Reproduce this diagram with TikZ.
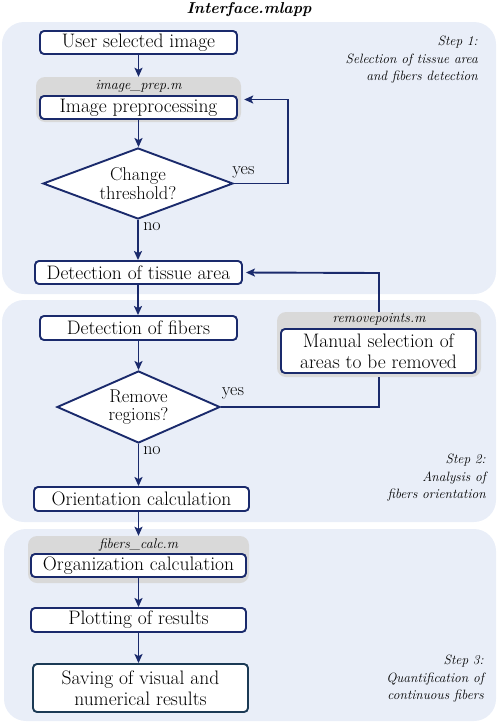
\documentclass[tikz,border=0pt]{standalone}
\usetikzlibrary{shapes.geometric,arrows.meta}
\definecolor{panelbg}{RGB}{233,238,248}
\definecolor{navy}{RGB}{26,42,108}
\definecolor{darkteal}{RGB}{27,58,85}
\definecolor{graybg}{RGB}{217,217,217}
\tikzset{
  panel/.style={fill=panelbg, draw=none, rounded corners=22pt},
  box/.style={draw=navy, line width=1.9pt, fill=white, rounded corners=4pt, inner sep=0pt, align=center, font=\fontsize{19.5}{20.5}\selectfont},
  graybox/.style={fill=graybg, draw=none, rounded corners=9pt, inner sep=0pt},
  dia/.style={draw=navy, line width=1.9pt, fill=white, diamond, inner sep=0pt, align=center, font=\fontsize{18.5}{18.5}\selectfont},
  arr/.style={draw=navy, line width=1.9pt, -{Stealth[length=9pt,width=8pt,inset=2pt]}},
  conn/.style={draw=navy, line width=1.9pt},
  fname/.style={font=\fontsize{14}{15}\selectfont\itshape, inner sep=0pt},
  yn/.style={font=\fontsize{18}{19}\selectfont, inner sep=0pt},
  stepnote/.style={font=\fontsize{13.5}{17.5}\selectfont\itshape, align=right, inner sep=0pt}
}
\begin{document}
\begin{tikzpicture}[x=1pt,y=-1pt]
\useasboundingbox (0,0) rectangle (498,723);
% panels
\fill[panel] (2,22) rectangle (496,294);
\fill[panel] (2,300) rectangle (496,522);
\fill[panel] (4,529) rectangle (496,721);
% title
\node[font=\fontsize{15.8}{17}\selectfont\bfseries\itshape, inner sep=0pt] (title) at (249,10) {Interface.mlapp};
% step notes
\node[stepnote, anchor=east] (s1) at (478,60) {Step 1:\\Selection of tissue area\\and fibers detection};
\node[stepnote, anchor=east] (s2) at (486,478) {Step 2:\\Analysis of\\fibers orientation};
\node[stepnote, anchor=east] (s3) at (484,679) {Step 3:\\Quantification of\\continuous fibers};
% step 1
\node[box, minimum width=197pt, minimum height=23pt] (user) at (138.5,42.5) {User selected image};
\node[graybox, minimum width=205pt, minimum height=45pt] (gprep) at (138.5,99.5) {};
\node[fname] (lprep) at (138.5,86) {image\_prep.m};
\node[box, minimum width=197pt, minimum height=23pt] (prep) at (138.5,107.5) {Image preprocessing};
\node[dia, aspect=2.68, minimum width=190pt, minimum height=71pt] (thr) at (138,183.5) {Change\\threshold?};
\node[yn] (yes1) at (243.5,172) {yes};
\node[yn] (no1) at (152,227) {no};
\node[box, minimum width=207pt, minimum height=23pt] (tissue) at (138.5,272.5) {Detection of tissue area};
\coordinate (c1) at (288,183.5);
% step 2
\node[box, minimum width=197pt, minimum height=24pt] (fib) at (138.5,328) {Detection of fibers};
\node[graybox, minimum width=204pt, minimum height=65pt] (grem) at (379,344.5) {};
\node[fname] (lrem) at (379,319) {removepoints.m};
\node[box, minimum width=195pt, minimum height=44pt] (manual) at (378.5,351) {Manual selection of\\areas to be removed};
\node[dia, aspect=2.26, minimum width=163pt, minimum height=72pt] (rem) at (138.5,407) {Remove\\regions?};
\node[yn] (yes2) at (233,393) {yes};
\node[yn] (no2) at (152,451) {no};
\node[box, minimum width=215pt, minimum height=24pt] (orient) at (141.5,499) {Orientation calculation};
\coordinate (c2) at (379,273);
% step 3
\node[graybox, minimum width=221pt, minimum height=47pt] (gfib) at (138.5,559.5) {};
\node[fname] (lfib) at (138.5,545) {fibers\_calc.m};
\node[box, minimum width=215pt, minimum height=23pt] (organ) at (138.5,565.5) {Organization calculation};
\node[box, minimum width=215pt, minimum height=24pt] (plot) at (138.5,620) {Plotting of results};
\node[box, draw=darkteal, minimum width=215pt, minimum height=48pt] (save) at (140.5,688) {Saving of visual and\\numerical results};
% connectors
\draw[arr] (user.south -| gprep.north) -- (gprep.north);
\draw[arr] (prep.south) -- (prep.south |- thr.north);
\draw[arr, shorten >=3pt] (thr.east) -- (c1) |- (gprep.east);
\draw[arr] (thr.south) -- (thr.south |- tissue.north);
\draw[arr] (tissue.south -| thr.south) -- (thr.south |- fib.north);
\draw[arr] (fib.south) -- (fib.south |- rem.north);
\draw[conn] (rem.east) -| (grem.south);
\draw[arr, shorten >=3pt] (grem.north) -- (c2) -- (tissue.east);
\draw[arr] (rem.south) -- (rem.south |- orient.north);
\draw[arr] (orient.south -| gfib.north) -- (gfib.north);
\draw[arr] (organ.south) -- (organ.south |- plot.north);
\draw[arr] (plot.south) -- (plot.south |- save.north);
\end{tikzpicture}
\end{document}
